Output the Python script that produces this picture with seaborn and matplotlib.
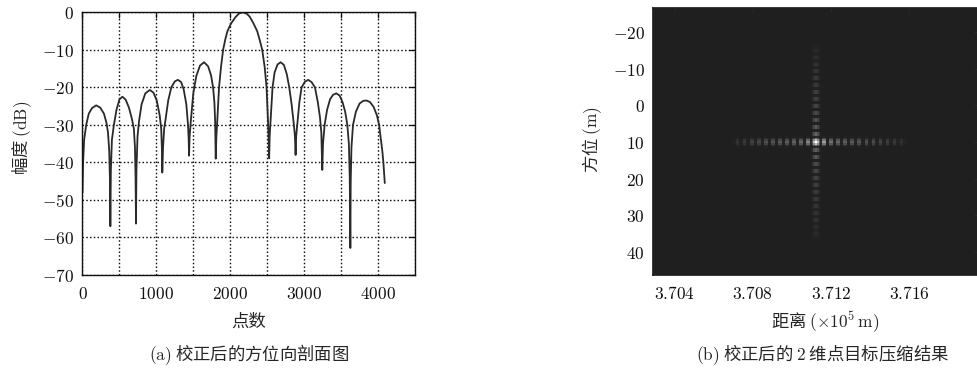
import numpy as np
import pandas as pd
import matplotlib
matplotlib.use("Agg")
import matplotlib.pyplot as plt
from matplotlib.colors import LinearSegmentedColormap
from matplotlib.ticker import FixedLocator, FuncFormatter
import seaborn as sns

# ---------------- (a) azimuth profile after correction ----------------
sample_idx = [
    0, 8, 22, 50, 85, 130, 185, 240, 290, 325, 345, 362, 372, 377,
    384, 398, 425, 460, 500, 540, 585, 630, 670, 695, 710, 718, 724,
    730, 745, 765, 800, 850, 912, 960, 1005, 1045, 1065, 1074, 1080,
    1090, 1105, 1121, 1160, 1202, 1250, 1292, 1335, 1369, 1405, 1428, 1437, 1442,
    1450, 1470, 1500, 1540, 1590, 1645, 1700, 1740, 1767, 1785, 1795, 1803,
    1812, 1821, 1848, 1875, 1903, 1935, 1962, 2010, 2070, 2120, 2172, 2225,
    2264, 2310, 2364, 2400, 2432, 2465, 2491, 2513, 2520, 2526,
    2533, 2545, 2572, 2600, 2640, 2681, 2725, 2765, 2798, 2830, 2861, 2875, 2884,
    2892, 2911, 2935, 2965, 3010, 3055, 3100, 3146, 3185, 3214, 3232, 3245,
    3255, 3277, 3310, 3350, 3390, 3435, 3480, 3520, 3555, 3584, 3605, 3617, 3625,
    3630, 3640, 3661, 3700, 3750, 3800, 3842, 3890, 3940, 3985, 4014, 4040, 4058,
    4072, 4091,
]
amplitude_db = [
    -48, -40, -34, -30, -27, -25.5, -24.8, -25.4, -27, -29.5, -32, -37, -45, -57,
    -42, -34, -30, -26, -23.2, -22.5, -23.3, -25.5, -28.5, -31, -36, -44, -56.3,
    -42, -33, -29, -24.5, -21.6, -20.7, -21.4, -23.5, -27.5, -31, -36, -42.7,
    -36, -31, -29, -23.5, -20, -18.4, -18, -18.6, -20.5, -24.5, -30, -34, -38.2,
    -33, -28, -21.5, -17, -14.2, -13.3, -14.4, -16.8, -20, -24, -29, -39,
    -33, -30, -20, -14.5, -10, -7, -5, -3.0, -1.3, -0.3, 0, -0.4,
    -1.2, -2.8, -5, -7.5, -10, -14.5, -20, -30, -34, -38.9,
    -33, -29, -20, -16, -13.9, -13.3, -14, -16.5, -20, -24.5, -30, -33, -38,
    -33, -29, -24, -20, -18.5, -18, -18.6, -20, -24, -28, -32, -42,
    -35, -30, -26, -23.2, -22, -21.6, -22.2, -24, -26.5, -30, -35, -44, -62.8,
    -45, -36, -30, -26.5, -24.3, -23.6, -23.5, -23.9, -25.2, -27.5, -30, -34, -37,
    -40, -45.5,
]
a_xticks = [0, 500, 1000, 1500, 2000, 2500, 3000, 3500, 4000, 4500]
a_xticklabels = ["0", "", "1000", "", "2000", "", "3000", "", "4000", ""]
a_yticks = [-70, -60, -50, -40, -30, -20, -10, 0]

# ---------------- (b) 2-D compressed point target ----------------
b_xticks = [3.704, 3.708, 3.712, 3.716]
b_yticks = [-20, -10, 0, 10, 20, 30, 40]
peak_range = 3.71123      # x 10^5 m
peak_azimuth = 10.0       # m
main_lobe = [1.0, 0.7, 0.3, 0.05]
range_lobes_right = [0.55, 0.36, 0.31, 0.28, 0.26, 0.24, 0.22, 0.2, 0.17, 0.14, 0.11, 0.08]
range_lobes_left = [0.45, 0.32, 0.29, 0.27, 0.25, 0.23, 0.21, 0.18, 0.15, 0.12, 0.09]
azimuth_lobes_up = [0.3, 0.25, 0.22, 0.19, 0.17, 0.15, 0.14, 0.12, 0.11, 0.1, 0.08, 0.07, 0.05]
azimuth_lobes_down = [0.28, 0.24, 0.21, 0.18, 0.16, 0.15, 0.13, 0.12, 0.1, 0.09, 0.08, 0.06, 0.05]
RANGE_BIN = 0.00009
AZIMUTH_BIN = 0.477

sns.set_theme(style="white")
plt.rcParams["mathtext.fontset"] = "cm"
plt.rcParams["font.family"] = ["Noto Sans CJK SC", "DejaVu Sans"]
plt.rcParams["axes.unicode_minus"] = True

CJK = "Noto Sans CJK SC"
TICK_FS = 12.5
LABEL_FS = 12.5

fig = plt.figure(figsize=(9.78, 3.69), dpi=100)
W, H = 978.0, 369.0


def fx(px):
    return px / W


def fy(py):
    return 1 - py / H


math_fmt = FuncFormatter(lambda v, pos: "$%g$" % v)

# ---- panel (a)
ax1 = fig.add_axes([fx(82.5), fy(275), fx(415) - fx(82.5), fy(12.3) - fy(275)])
profile = pd.DataFrame({"idx": sample_idx, "db": amplitude_db})
sns.lineplot(data=profile, x="idx", y="db", ax=ax1, color="#2a2a2a",
             linewidth=1.3, estimator=None, sort=False)
ax1.set_xlim(0, 4500)
ax1.set_ylim(-70, 0)
ax1.xaxis.set_major_locator(FixedLocator(a_xticks))
ax1.set_xticklabels(["$%s$" % t if t else "" for t in a_xticklabels])
ax1.yaxis.set_major_locator(FixedLocator(a_yticks))
ax1.yaxis.set_major_formatter(math_fmt)
ax1.grid(True, color="#111111", linestyle=(0, (1.1, 1.6)), linewidth=1.0)
ax1.tick_params(direction="in", length=4, width=0.9, top=True, right=True,
                labelsize=TICK_FS, colors="#111111")
ax1.tick_params(axis="x", pad=7)
ax1.tick_params(axis="y", pad=6)
for s in ax1.spines.values():
    s.set_color("#111111")
    s.set_linewidth(1.0)
ax1.set_xlabel("")
ax1.set_ylabel("")

fig.text(fx(249), fy(322), "点数", ha="center", va="center",
         fontsize=LABEL_FS, family=[CJK])
fig.text(fx(22), fy(138), r"幅度 $(\mathrm{dB})$", ha="center", va="center",
         rotation=90, fontsize=LABEL_FS, family=[CJK])
fig.text(fx(249), fy(355), r"$(\mathrm{a})$ 校正后的方位向剖面图", ha="center",
         va="center", fontsize=LABEL_FS, family=[CJK])


# ---- panel (b)
def build_profile(main, before, after):
    def side(lobes):
        vals = list(main[1:])
        for v in lobes:
            vals += [v, v, 0.02, 0.02]
        return vals
    lead = side(before)[::-1]
    full = np.array(lead + [main[0]] + side(after))
    core = np.zeros_like(full)
    core[len(lead) - len(main) + 1: len(lead) + len(main)] = \
        full[len(lead) - len(main) + 1: len(lead) + len(main)]
    return full, core, len(lead)


r_prof, r_core, r_lead = build_profile(main_lobe, range_lobes_left, range_lobes_right)
a_prof, a_core, a_lead = build_profile(main_lobe, azimuth_lobes_up, azimuth_lobes_down)
r_pos = peak_range + (np.arange(len(r_prof)) - r_lead) * RANGE_BIN
a_pos = peak_azimuth + (np.arange(len(a_prof)) - a_lead) * AZIMUTH_BIN
# range sidelobes along the peak row, azimuth sidelobes along the peak column
image = np.maximum(np.outer(a_core, r_prof), np.outer(a_prof, r_core))

bg = "#1f1f1f"
cmap = LinearSegmentedColormap.from_list("dark_gray", [bg, "#ffffff"])
ax2 = fig.add_axes([fx(653), fy(275), fx(978) - fx(653), fy(8.3) - fy(275)])
ax2.set_facecolor(bg)
ax2.pcolormesh(r_pos, a_pos, image, cmap=cmap, vmin=0, vmax=1, shading="nearest")
ax2.set_xlim(3.7029, 3.7195)
ax2.set_ylim(46.3, -26.5)
ax2.xaxis.set_major_locator(FixedLocator(b_xticks))
ax2.xaxis.set_major_formatter(FuncFormatter(lambda v, pos: "$%.3f$" % v))
ax2.yaxis.set_major_locator(FixedLocator(b_yticks))
ax2.yaxis.set_major_formatter(math_fmt)
ax2.grid(False)
ax2.tick_params(direction="in", length=3, width=0.8, color="#2a2a2a",
                labelsize=TICK_FS, labelcolor="#111111", top=True, right=True)
ax2.tick_params(axis="x", pad=7)
ax2.tick_params(axis="y", pad=6)
for s in ax2.spines.values():
    s.set_color(bg)

fig.text(fx(592), fy(140), r"方位 $(\mathrm{m})$", ha="center", va="center",
         rotation=90, fontsize=LABEL_FS, family=[CJK])
fig.text(fx(825), fy(322), r"距离 $(\times10^5\,\mathrm{m})$", ha="center",
         va="center", fontsize=LABEL_FS, family=[CJK])
fig.text(fx(823), fy(355), r"$(\mathrm{b})$ 校正后的 $2$ 维点目标压缩结果",
         ha="center", va="center", fontsize=LABEL_FS, family=[CJK])

fig.savefig("out.png", dpi=100, facecolor="white")
